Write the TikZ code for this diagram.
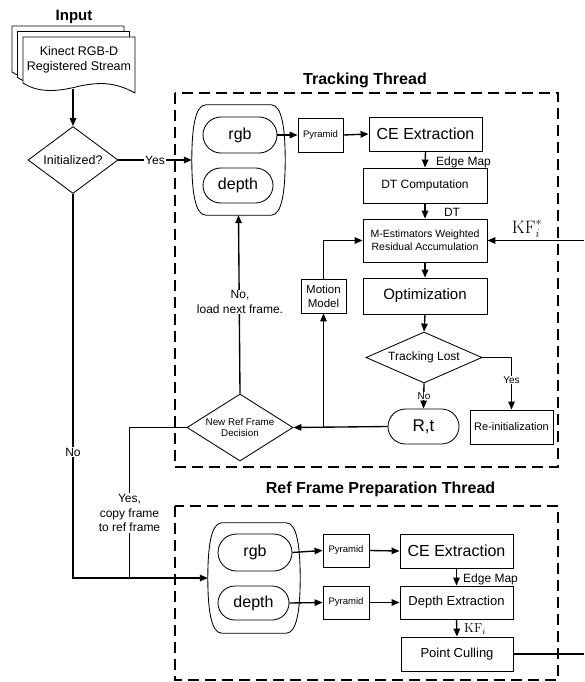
\documentclass[tikz,border=0pt]{standalone}
\usepackage{fontspec}
\newfontfamily\lsans{Liberation Sans}
\usetikzlibrary{arrows.meta,shapes.geometric,shapes.misc}

% sans text at a given size (pt), line distance 1.2 times the size
\newcommand\fs[1]{\lsans\fontsize{#1}{\dimexpr #1pt*6/5\relax}\selectfont}
\newcommand\fsb[1]{\lsans\bfseries\fontsize{#1}{\dimexpr #1pt*6/5\relax}\selectfont}

\tikzset{
  outline/.style={draw, line width=0.85pt},
  box/.style={outline, rectangle, fill=white, inner sep=0pt, align=center},
  pill/.style={outline, rounded rectangle, fill=white, inner sep=0pt, align=center},
  decision/.style={outline, diamond, fill=white, inner sep=0pt, align=center},
  bag/.style={rectangle, draw=none, inner sep=0pt},
  link/.style={line width=1.35pt},
  conn/.style={link, -{Triangle[length=8pt,width=6.5pt]}},
  lbl/.style={fill=white, inner sep=1pt, align=center},
  frame/.style={line width=1.3pt, dash pattern=on 11pt off 6pt},
  title/.style={inner sep=0pt},
}

% rounded outline with gently bulging sides around an input pair
\newcommand\bagoutline[1]{%
  \draw[outline]
    ([xshift=14pt]#1.north west) -- ([xshift=-14pt]#1.north east)
    .. controls ([xshift=-3pt]#1.north east) and ([yshift=30pt]#1.east) .. (#1.east)
    .. controls ([yshift=-30pt]#1.east) and ([xshift=-3pt]#1.south east) .. ([xshift=-14pt]#1.south east)
    -- ([xshift=14pt]#1.south west)
    .. controls ([xshift=3pt]#1.south west) and ([yshift=-30pt]#1.west) .. (#1.west)
    .. controls ([yshift=30pt]#1.west) and ([xshift=3pt]#1.north west) .. cycle;}

% one sheet of the document stack
\newcommand\docsheet{%
  \draw[outline, fill=white] (23,37) -- (135,37) -- (135,93)
    .. controls (115,82) and (100,82) .. (80,86)
    .. controls (60,91) and (40,94) .. (23,83) -- cycle;}

\begin{document}
\begin{tikzpicture}[x=1pt, y=-1pt]
\useasboundingbox (0,0) rectangle (584,682);

% ---------- input ----------
\node[title, font=\fsb{15}] (inTitle) at (74,17) {Input};
\begin{scope}[shift={(-11,-11)}]\docsheet\end{scope}
\begin{scope}[shift={(-5.5,-5.5)}]\docsheet\end{scope}
\docsheet
\node[align=center, inner sep=0pt, font=\fs{12.5}] (doc) at (79,59.5) {Kinect RGB-D\\Registered Stream};
\coordinate (docout) at (73,89);

\node[decision, minimum width=90, minimum height=67, aspect=1.34, font=\fs{12.5}] (init) at (73,160) {Initialized?};

% ---------- thread frames ----------
\draw[frame] (175,93) rectangle (558,467);
\node[title, font=\fsb{16}] (trkTitle) at (365,80) {Tracking Thread};
\draw[frame] (175,506) rectangle (558,680);
\node[title, font=\fsb{16}] (refTitle) at (380.5,489) {Ref Frame Preparation Thread};

% ---------- tracking thread ----------
\node[bag, minimum width=93, minimum height=110] (bagA) at (238.5,160) {};
\bagoutline{bagA}
\node[pill, minimum width=74, minimum height=36, font=\fs{16}] (rgbA) at (240,135) {rgb};
\node[pill, minimum width=70, minimum height=35, font=\fs{16}] (depthA) at (238,185.5) {depth};

\node[box, minimum width=45, minimum height=34, font=\fs{9.5}] (pyrA) at (320.5,135) {Pyramid};
\node[box, minimum width=113, minimum height=34, font=\fs{16}] (ceA) at (425.5,134) {CE Extraction};
\node[box, minimum width=124, minimum height=35, font=\fs{12}] (dt) at (425,185.5) {DT Computation};
\node[box, minimum width=124, minimum height=43, font=\fs{10.5}] (mest) at (425,240.5) {M-Estimators Weighted\\Residual Accumulation};
\node[box, minimum width=124, minimum height=36, font=\fs{15}] (opt) at (425,296) {Optimization};
\node[box, minimum width=45, minimum height=34, font=\fs{11.5}] (motion) at (323.5,296) {Motion\\Model};
\node[decision, minimum width=116, minimum height=51, aspect=2.3, font=\fs{12}] (lost) at (424,357.5) {Tracking Lost};
\node[pill, minimum width=71, minimum height=35, font=\fs{17}] (rt) at (423.5,426.5) {R,t};
\node[box, minimum width=83, minimum height=34, font=\fs{11}] (reinit) at (511.5,427) {Re-initialization};
\node[decision, minimum width=106, minimum height=67, aspect=1.58, font=\fs{9.8}] (newref) at (240,427.5) {New Ref Frame\\Decision};

\coordinate (kfin) at (584,240.5);
\coordinate (mj) at (323.5,426.5);

\draw[conn] (rgbA.east) -- (pyrA.west);
\draw[conn] (pyrA.east) -- (ceA.west);
\draw[conn] (ceA.south) -- (dt.north);
\node[anchor=west, inner sep=0pt, font=\fs{12}] (edgeA) at (436,162) {Edge Map};
\draw[conn] (dt.south) -- (mest.north);
\node[inner sep=0pt, font=\fs{12}] (dtl) at (452,212) {DT};
\draw[conn] (kfin) -- (mest.east);
\node[inner sep=0pt, font=\fontsize{18}{20}\selectfont] (kfs) at (527,229) {$\mathrm{KF}_i^*$};
\draw[conn] (mest.south) -- (opt.north);
\draw[conn] (opt.south) -- (lost.north);
\draw[conn] (lost.south) -- (rt.north);
\node[lbl, font=\fs{10}] (noL) at (424,396) {No};
\draw[conn] (lost.east) -| (reinit.north);
\node[lbl, font=\fs{10}] (yesL) at (511.5,380) {Yes};
\draw[conn] (rt.west) -- (newref.east);
\draw[conn] (mj) -- (motion.south);
\draw[conn] (motion.north) |- (mest.west);
\draw[conn] (newref.north) -- (bagA.south);
\node[lbl, font=\fs{12}] (loadL) at (240,302) {No,\\load next frame.};

% ---------- input side ----------
\draw[conn] (docout) -- (init.north);
\draw[conn] (init.east) -- (bagA.west);
\node[lbl, font=\fs{12}] (yesI) at (155,160) {Yes};

% ---------- ref frame preparation thread ----------
\node[bag, minimum width=92, minimum height=110] (bagB) at (254,578) {};
\bagoutline{bagB}
\node[pill, minimum width=74, minimum height=37, font=\fs{16}] (rgbB) at (255,552.5) {rgb};
\node[pill, minimum width=71, minimum height=34, font=\fs{16}] (depthB) at (253.5,603) {depth};
\node[box, minimum width=46, minimum height=33, font=\fs{9.5}] (pyrB) at (346,550.5) {Pyramid};
\node[box, minimum width=46, minimum height=33, font=\fs{9.5}] (pyrC) at (346,602.5) {Pyramid};
\node[box, minimum width=113, minimum height=34, font=\fs{16}] (ceB) at (456.5,551) {CE Extraction};
\node[box, minimum width=113, minimum height=33, font=\fs{13}] (dex) at (456.5,602.5) {Depth Extraction};
\node[box, minimum width=112, minimum height=34, font=\fs{13}] (cull) at (457,654) {Point Culling};
\coordinate (pcout) at (584,654);

\draw[conn] (rgbB.east) -- (pyrB.west);
\draw[conn] (pyrB.east) -- (ceB.west);
\draw[conn] (depthB.east) -- (pyrC.west);
\draw[conn] (pyrC.east) -- (dex.west);
\draw[conn] (ceB.south) -- (dex.north);
\node[anchor=west, inner sep=0pt, font=\fs{12}] (edgeB) at (463,579) {Edge Map};
\draw[conn] (dex.south) -- (cull.north);
\node[anchor=west, inner sep=0pt, font=\fontsize{13}{15}\selectfont] (kfl) at (464,629) {$\mathrm{KF}_i$};
\draw[link] (cull.east) -- (pcout);

% ---------- links between the threads ----------
\coordinate (cj) at (129.5,578);
\draw[link] (newref.west) -| (cj);
\node[lbl, font=\fs{12}] (copyL) at (129.5,513) {Yes,\\copy frame\\to ref frame};
\draw[conn] (init.south) |- (bagB.west);
\node[lbl, font=\fs{12}] (noI) at (73,452) {No};
\end{tikzpicture}
\end{document}
